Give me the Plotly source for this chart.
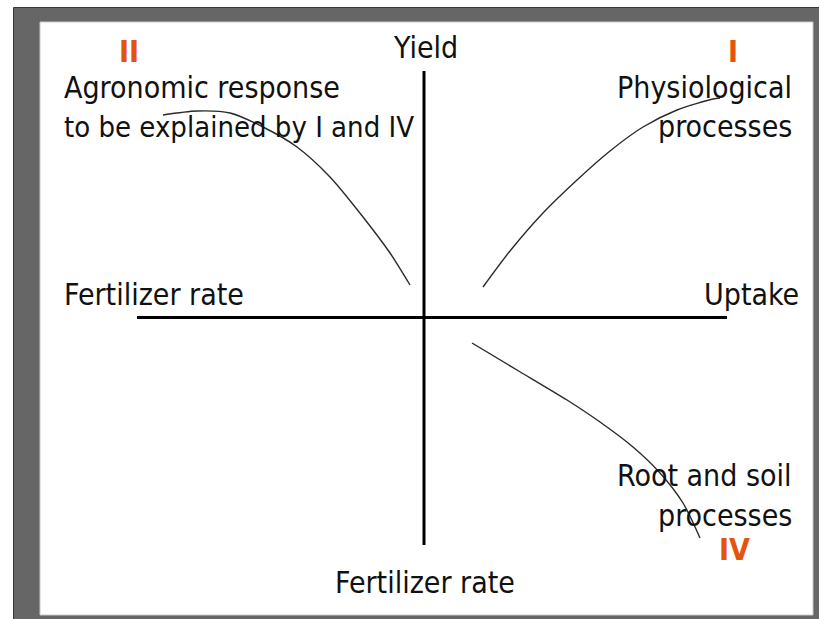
import plotly.graph_objects as go

# Conceptual four-quadrant diagram (coordinates in the diagram's own pixel-like units)
curve_II_x = [163, 197, 230, 263, 297, 330, 363, 390, 410]
curve_II_y = [115, 111, 113, 127, 147, 177, 217, 253, 285]

curve_I_x = [483, 510, 543, 577, 610, 643, 677, 713, 720]
curve_I_y = [287, 251, 213, 180, 151, 127, 110, 99, 98]

curve_IV_x = [472, 517, 567, 600, 633, 660, 683, 700]
curve_IV_y = [343, 370, 400, 422, 447, 473, 503, 538]

quadrant_labels = ["I", "II", "IV"]
axis_titles = ["Yield", "Uptake", "Fertilizer rate", "Fertilizer rate"]
quadrant_texts = ["Agronomic response", "to be explained by I and IV",
                  "Physiological", "processes", "Root and soil", "processes"]

FONT = "DejaVu Sans Condensed, Liberation Sans Narrow, sans-serif"
ORANGE = "#E5540F"
TXT = "#111111"
FS = 30

fig = go.Figure()
for cx, cy in [(curve_II_x, curve_II_y), (curve_I_x, curve_I_y), (curve_IV_x, curve_IV_y)]:
    fig.add_trace(go.Scatter(x=cx, y=cy, mode="lines",
                             line=dict(color="#2a2a2a", width=1.4, shape="spline", smoothing=0.8),
                             hoverinfo="skip", showlegend=False))

shapes = [
    # outer gray frame
    dict(type="rect", x0=13.5, x1=830, y0=7.5, y1=630, fillcolor="#666666",
         line=dict(color="#1d3f5e", width=1), layer="below"),
    # white slide panel
    dict(type="rect", x0=40, x1=813, y0=22, y1=615, fillcolor="#ffffff",
         line=dict(color="#c8c8c8", width=1), layer="below"),
    # axes
    dict(type="line", x0=137, x1=727, y0=317.5, y1=317.5, line=dict(color="#000000", width=3)),
    dict(type="line", x0=424, x1=424, y0=71, y1=545, line=dict(color="#000000", width=3)),
]

ann = []
def t(x, y, text, xa, color=TXT, size=FS, bold=False):
    if bold:
        text = "<b>" + text + "</b>"
    ann.append(dict(x=x, y=y, text=text, xanchor=xa, yanchor="middle", showarrow=False,
                    font=dict(family=FONT, size=size, color=color), xref="x", yref="y"))

t(425, 47, axis_titles[0], "center")
t(801, 294, axis_titles[1], "right")
t(62, 294, axis_titles[2], "left")
t(425, 582, axis_titles[3], "center")
t(62, 87, quadrant_texts[0], "left")
t(62, 127, quadrant_texts[1], "left", size=29)
t(794, 87, quadrant_texts[2], "right")
t(794, 126, quadrant_texts[3], "right")
t(794, 475, quadrant_texts[4], "right")
t(794, 515, quadrant_texts[5], "right")
t(733, 51, quadrant_labels[0], "center", ORANGE, 30, True)
t(129, 51, quadrant_labels[1], "center", ORANGE, 30, True)
t(734, 549, quadrant_labels[2], "center", ORANGE, 30, True)

fig.update_layout(
    width=819, height=619, autosize=False,
    margin=dict(l=0, r=0, t=0, b=0),
    paper_bgcolor="#ffffff", plot_bgcolor="rgba(0,0,0,0)",
    xaxis=dict(range=[0, 819], visible=False, fixedrange=True),
    yaxis=dict(range=[619, 0], visible=False, fixedrange=True),
    shapes=shapes, annotations=ann, showlegend=False,
)
fig.write_html("out.html", config={"displayModeBar": False},
               post_script="document.body.style.margin='0';document.body.style.overflow='hidden';")
